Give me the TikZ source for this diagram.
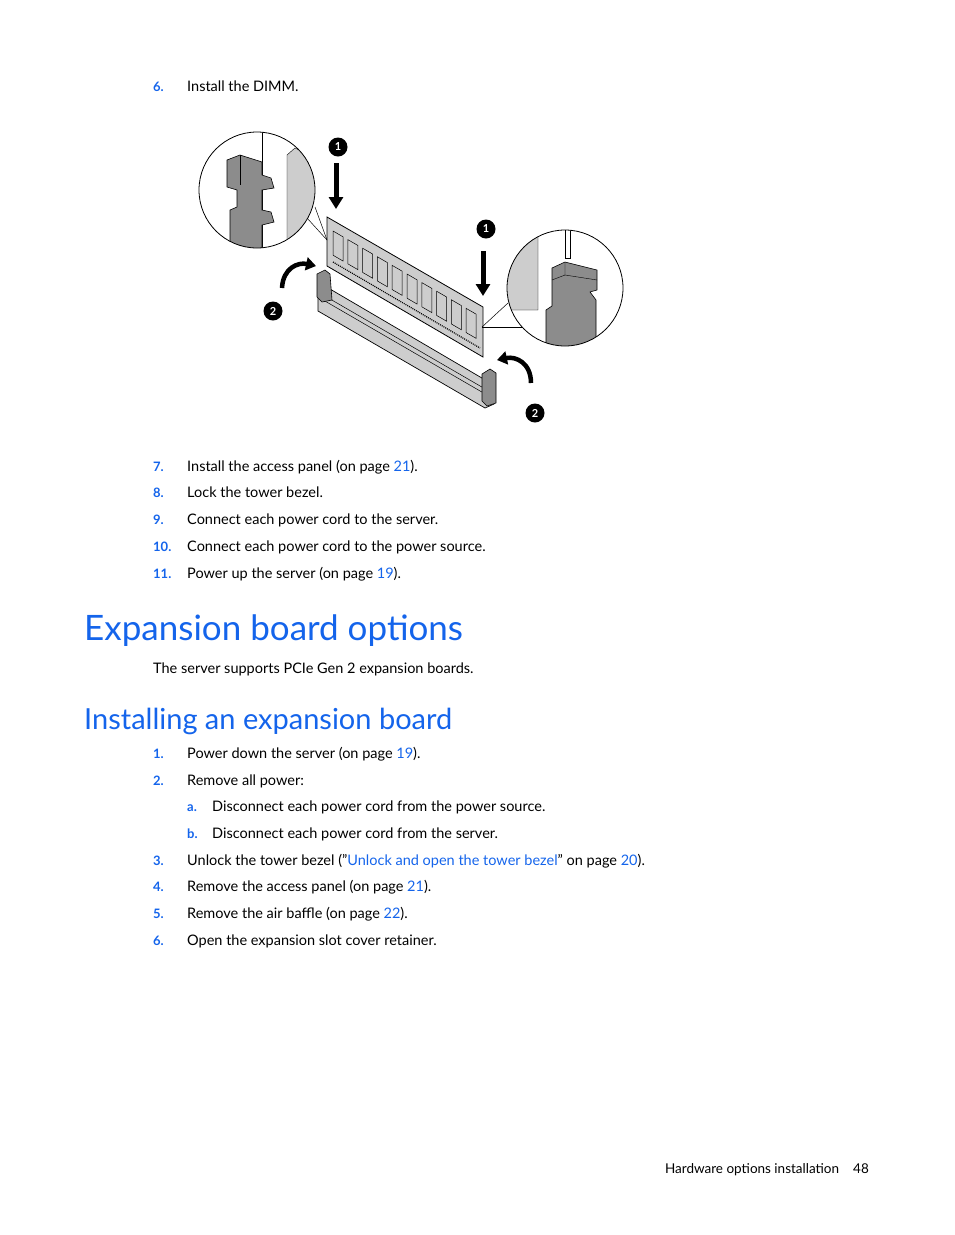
\documentclass[tikz,border=0pt]{standalone}
\usepackage{fontspec}
\setmainfont{Lato}
\usetikzlibrary{arrows.meta}
\definecolor{hpblue}{RGB}{20,100,235}
\definecolor{mgray}{RGB}{140,140,140}
\definecolor{lgray}{RGB}{205,205,205}
\begin{document}
\begin{tikzpicture}[x=1pt,y=-1pt,
  body/.style={anchor=base west,inner sep=0pt,font=\fontsize{14.5}{17}\selectfont},
  num/.style={anchor=base west,inner sep=0pt,text=hpblue,font=\fontsize{13}{15}\selectfont\bfseries},
  badge/.style={circle,fill=black,text=white,inner sep=0pt,minimum size=19pt,font=\fontsize{11}{12}\selectfont\bfseries},
  chip/.style={draw=black,fill=lgray,line width=0.5pt},
  arr/.style={-{Triangle[length=12pt,width=14pt]},line width=5pt}]
\useasboundingbox (0,0) rectangle (954,1235);
\newcommand{\lnk}[1]{\textcolor{hpblue}{#1}}
% steps
\node[num] (n6) at (153,91) {6.};
\node[body] (t6) at (187,91) {Install the DIMM.};
% --- illustration ---
% slot
\draw[fill=lgray,line width=0.7pt] (318,282) -- (487,381) -- (494,386) -- (494,404) -- (485,408) -- (318,311) -- cycle;
\draw[line width=0.5pt] (318,292) -- (487,390);
\draw[line width=0.5pt] (318,297) -- (487,395);
\draw[fill=mgray,line width=0.6pt] (317,274) -- (325,270) -- (330,274) -- (332,300) -- (322,302) -- (317,297) -- cycle;
\draw[fill=mgray,line width=0.6pt] (482,374) -- (490,369) -- (496,373) -- (496,403) -- (487,406) -- (482,401) -- cycle;
% DIMM
\draw[fill=lgray,line width=0.8pt] (327,217) -- (483,307) -- (483,357) -- (327,266) -- cycle;
\foreach \i in {0,...,9}{
  \pgfmathsetmacro{\xa}{333+\i*14.8}
  \pgfmathsetmacro{\ya}{231+\i*8.6}
  \draw[chip] (\xa,\ya) -- (\xa+10,\ya+5.8) -- (\xa+10,\ya+30) -- (\xa,\ya+24.2) -- cycle;
}
\draw[line width=1.2pt,dash pattern=on 1pt off 1pt] (333,262) -- (480,348);
% left zoom circle
\begin{scope}
\clip (257,190) circle (58);
\fill[white] (257,190) circle (58);
\draw (262,130) -- (262,250);
\draw[fill=lgray] (287,155) -- (295,148) -- (320,160) -- (320,250) -- (287,250) -- cycle;
\draw[fill=mgray,line width=0.6pt] (227,160) -- (240,155) -- (262,162) -- (262,175) -- (271,178) -- (274,188) -- (262,190) -- (262,210) -- (271,212) -- (274,222) -- (262,225) -- (262,250) -- (230,250) -- (230,210) -- (237,207) -- (237,190) -- (227,187) -- cycle;
\draw (240,155) -- (240,185);
\end{scope}
\draw[line width=0.8pt] (257,190) circle (58);
\draw[line width=0.5pt] (307,218) -- (327,240);
\draw[line width=0.5pt] (315,207) -- (327,240);
% right zoom circle
\begin{scope}
\clip (565,288) circle (58);
\fill[white] (565,288) circle (58);
\draw[fill=lgray] (500,240) -- (538,232) -- (538,310) -- (500,310) -- cycle;
\draw (565,230) -- (565,258) -- (570,258) -- (570,230);
\draw[fill=mgray,line width=0.6pt] (552,268) -- (565,262) -- (597,270) -- (597,290) -- (590,292) -- (596,300) -- (596,350) -- (546,350) -- (546,310) -- (552,306) -- cycle;
\draw (565,262) -- (565,275) -- (552,280);
\draw (565,275) -- (597,280);
\end{scope}
\draw[line width=0.8pt] (565,288) circle (58);
\draw[line width=0.5pt] (482,327) -- (508,303);
\draw[line width=0.5pt] (482,327) -- (523,327);
% arrows
\draw[arr] (336,163) -- (336,209);
\draw[arr] (483,251) -- (483,296);
\draw[-{Triangle[length=10pt,width=13pt]},line width=4.5pt] (282,288) .. controls (283,268) and (298,262) .. (316,266);
\draw[-{Triangle[length=10pt,width=13pt]},line width=4.5pt] (531,383) .. controls (531,363) and (516,356) .. (497,360);
\node[badge] (b1) at (338,147) {1};
\node[badge] (b2) at (486,229) {1};
\node[badge] (b3) at (273,311) {2};
\node[badge] (b4) at (535,413) {2};
% more steps
\node[num] at (153,471) {7.};  \node[body] at (187,471) {Install the access panel (on page \lnk{21}).};
\node[num] at (153,497) {8.};  \node[body] at (187,497) {Lock the tower bezel.};
\node[num] at (153,524) {9.};  \node[body] at (187,524) {Connect each power cord to the server.};
\node[num] at (153,551) {10.}; \node[body] at (187,551) {Connect each power cord to the power source.};
\node[num] at (153,578) {11.}; \node[body] at (187,578) {Power up the server (on page \lnk{19}).};
\node[anchor=base west,inner sep=0pt,text=hpblue,font=\fontsize{35}{40}\selectfont] at (84,640) {Expansion board options};
\node[body] at (153,673) {The server supports PCIe Gen 2 expansion boards.};
\node[anchor=base west,inner sep=0pt,text=hpblue,font=\fontsize{29}{34}\selectfont] at (84,729) {Installing an expansion board};
\node[num] at (153,758) {1.}; \node[body] at (187,758) {Power down the server (on page \lnk{19}).};
\node[num] at (153,785) {2.}; \node[body] at (187,785) {Remove all power:};
\node[num] at (187,811) {a.}; \node[body] at (212,811) {Disconnect each power cord from the power source.};
\node[num] at (187,838) {b.}; \node[body] at (212,838) {Disconnect each power cord from the server.};
\node[num] at (153,865) {3.}; \node[body] at (187,865) {Unlock the tower bezel ("\lnk{Unlock and open the tower bezel}" on page \lnk{20}).};
\node[num] at (153,891) {4.}; \node[body] at (187,891) {Remove the access panel (on page \lnk{21}).};
\node[num] at (153,918) {5.}; \node[body] at (187,918) {Remove the air baffle (on page \lnk{22}).};
\node[num] at (153,945) {6.}; \node[body] at (187,945) {Open the expansion slot cover retainer.};
\node[anchor=base east,inner sep=0pt,font=\fontsize{13.5}{16}\selectfont] at (869,1173) {Hardware options installation\hspace{14pt}48};
\end{tikzpicture}
\end{document}
